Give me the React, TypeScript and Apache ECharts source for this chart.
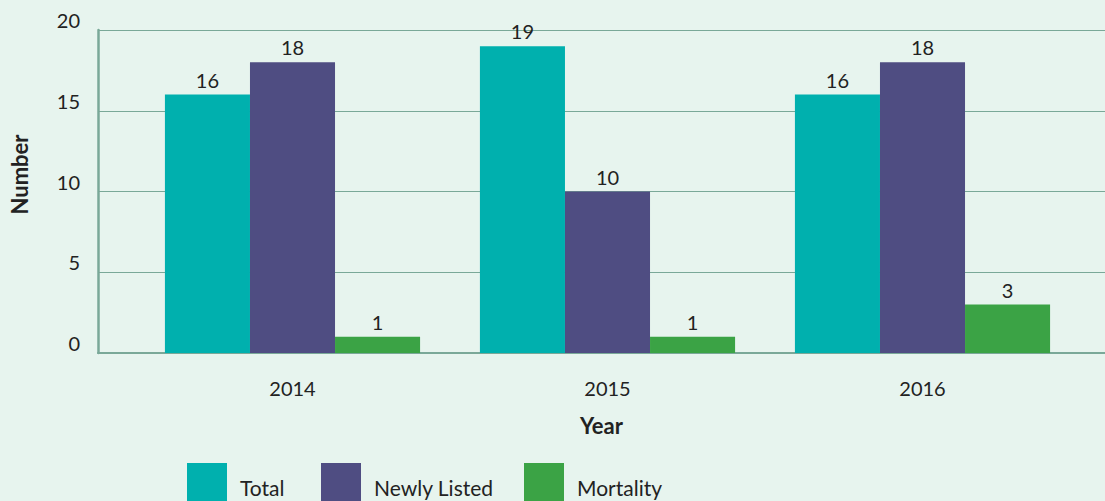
import React, { useEffect, useRef } from "react";
import * as echarts from "echarts";

const categories = ["2014", "2015", "2016"];
const totalValues = [16, 19, 16];
const newlyListedValues = [18, 10, 18];
const mortalityValues = [1, 1, 3];
const seriesNames = ["Total", "Newly Listed", "Mortality"];
const colors = ["#00b0ae", "#4f4d82", "#3ba345"];

const FONT = "Lato, 'Noto Sans', sans-serif";

export default function App() {
  const ref = useRef<HTMLDivElement>(null);
  useEffect(() => {
    if (!ref.current) return;
    const chart = echarts.init(ref.current, undefined, { renderer: "svg" });
    const seriesData = [totalValues, newlyListedValues, mortalityValues];
    const legendLefts = [187, 321, 524];
    chart.setOption({
      animation: false,
      backgroundColor: "#e7f4ee",
      textStyle: { fontFamily: FONT },
      grid: [
        { left: 97, right: 0, top: 30, bottom: 148 },
        { left: 135, right: 25, top: 30, bottom: 148 },
      ],
      legend: seriesNames.map((n, i) => ({
        data: [n],
        left: legendLefts[i],
        top: 463,
        padding: 0,
        itemWidth: 40,
        itemHeight: 40,
        icon: "rect",
        selectedMode: false,
        formatter: "{t|{name}}",
        textStyle: {
          fontSize: 21,
          color: "#222",
          fontFamily: FONT,
          padding: [0, 0, 0, 8],
          rich: { t: { fontSize: 21, color: "#222", fontFamily: FONT, padding: [9, 0, 0, 0] } },
        },
      })),
      xAxis: [
        {
          gridIndex: 0,
          type: "category",
          data: categories,
          show: true,
          axisLine: { show: true, lineStyle: { color: "#7aa898", width: 2 } },
          axisTick: { show: false },
          axisLabel: { show: false },
          name: "Year",
          nameLocation: "middle",
          nameGap: 61,
          nameTextStyle: { fontSize: 22, fontWeight: "bold", color: "#222", fontFamily: FONT },
        },
        {
          gridIndex: 1,
          type: "category",
          data: categories,
          axisLine: { show: false },
          axisTick: { show: false },
          axisLabel: { fontSize: 20, color: "#222", margin: 25, fontFamily: FONT },
        },
      ],
      yAxis: [
        {
          gridIndex: 0,
          type: "value",
          min: 0,
          max: 20,
          interval: 5,
          axisLine: { show: true, lineStyle: { color: "#7aa898", width: 2.5 } },
          axisTick: { show: false },
          splitLine: { show: true, lineStyle: { color: "#7aa898", width: 1 } },
          axisLabel: { fontSize: 20, color: "#222", margin: 18, verticalAlign: "bottom", fontFamily: FONT },
          name: "Number",
          nameLocation: "middle",
          nameGap: 68,
          nameTextStyle: { fontSize: 22, fontWeight: "bold", color: "#222", fontFamily: FONT, padding: [0, 0, 0, 34] },
        },
        {
          gridIndex: 1,
          type: "value",
          min: 0,
          max: 20,
          interval: 5,
          show: false,
          splitLine: { show: false },
        },
      ],
      series: seriesNames.map((n, i) => ({
        name: n,
        type: "bar",
        xAxisIndex: 1,
        yAxisIndex: 1,
        data: seriesData[i],
        barGap: "0%",
        barCategoryGap: "19%",
        itemStyle: { color: colors[i] },
        label: { show: true, position: "top", distance: 5, fontSize: 20, color: "#222", fontFamily: FONT },
      })),
    });
    return () => chart.dispose();
  }, []);
  return <div ref={ref} style={{ width: 1105, height: 501, position: "absolute", left: 0, top: 0 }} />;
}
